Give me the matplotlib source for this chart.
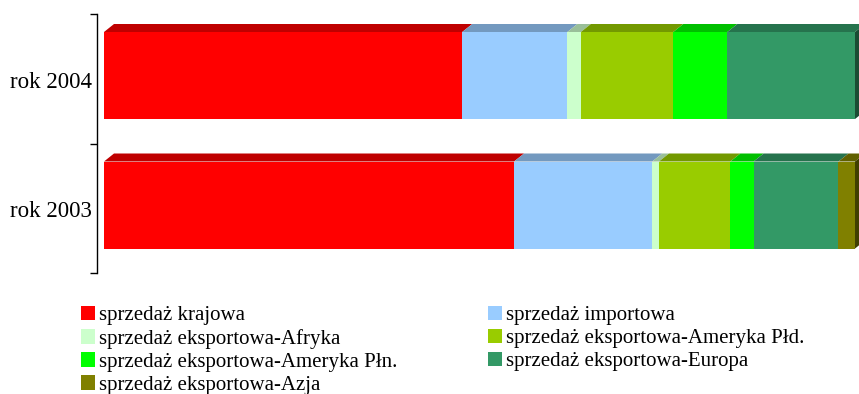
import numpy as np
import matplotlib
matplotlib.use("Agg")
import matplotlib.pyplot as plt
from matplotlib.patches import Polygon, Patch
from matplotlib.colors import to_rgb
from matplotlib.transforms import ScaledTranslation

plt.rcParams['font.family'] = ['Liberation Serif', 'DejaVu Serif']

lata = ['rok 2003', 'rok 2004']
serie = ['sprzedaż krajowa', 'sprzedaż importowa', 'sprzedaż eksportowa-Afryka',
         'sprzedaż eksportowa-Ameryka Płd.', 'sprzedaż eksportowa-Ameryka Płn.',
         'sprzedaż eksportowa-Europa', 'sprzedaż eksportowa-Azja']
# udzialy w %, kolejnosc jak w serie
rok_2003 = [54.6, 18.4, 0.9, 9.5, 3.1, 11.3, 2.2]
rok_2004 = [47.7, 14.0, 1.8, 12.3, 7.2, 17.0, 0.0]
kolory = ['#FF0000', '#99CCFF', '#CCFFCC', '#99CC00', '#00FF00', '#339966', '#808000']

dane = np.array([rok_2003, rok_2004])

def ciemniej(c, f):
    r, g, b = to_rgb(c)
    return (r * f, g * f, b * f)

W, H = 859, 394
fig = plt.figure(figsize=(W / 100, H / 100), dpi=100)
ax = fig.add_axes([104 / W, (H - 273) / H, (855 - 104) / W, (273 - 14) / H])
ax.set_xlim(0, 100)
ax.set_ylim(-0.5, 1.5)

h = 0.672
off = 0.025
dx = 10 / 751 * 100      # glebokosc 3D w jednostkach danych
dy = 8 / 129.5

for i in range(len(lata)):
    yc = i + off
    b, t = yc - h / 2, yc + h / 2
    left = 0
    for j, v in enumerate(dane[i]):
        if v <= 0:
            continue
        ax.barh(yc, v, left=left, height=h, color=kolory[j], linewidth=0)
        top = Polygon([(left, t), (left + v, t), (left + v + dx, t + dy), (left + dx, t + dy)],
                      closed=True, facecolor=ciemniej(kolory[j], 0.75), linewidth=0, clip_on=False)
        ax.add_patch(top)
        last = j
        left += v
    side = Polygon([(left, b), (left, t), (left + dx, t + dy), (left + dx, b + dy)],
                   closed=True, facecolor=ciemniej(kolory[last], 0.5), linewidth=0, clip_on=False)
    ax.add_patch(side)

for s in ['top', 'right', 'bottom']:
    ax.spines[s].set_visible(False)
ax.spines['left'].set_position(('outward', 5))
ax.spines['left'].set_linewidth(1.0)
ax.set_xticks([])
ax.set_yticks([-0.5, 0.5, 1.5])
ax.set_yticklabels([])
ax.tick_params(axis='y', which='major', direction='out', length=5, width=1.0)
ax.set_yticks([0, 1], minor=True)
ax.set_yticklabels(lata, minor=True, fontsize=16.5)
ax.tick_params(axis='y', which='minor', length=0, pad=4)
for lab in ax.get_yticklabels(minor=True):
    lab.set_va('center')
    lab.set_transform(lab.get_transform() + ScaledTranslation(0, -3.5 / 100, fig.dpi_scale_trans))

uchwyty = [Patch(facecolor=kolory[j], linewidth=0, label=serie[j]) for j in range(len(serie))]
kol1 = [uchwyty[k] for k in (0, 2, 4, 6)]
kol2 = [uchwyty[k] for k in (1, 3, 5)]
opts = dict(frameon=False, fontsize=15, handlelength=0.68, handleheight=0.68,
            handletextpad=0.18, labelspacing=0.17, borderpad=0, borderaxespad=0)
leg1 = fig.legend(handles=kol1, loc='upper left', bbox_to_anchor=(81 / W, 1 - 306 / H), **opts)
leg2 = fig.legend(handles=kol2, loc='upper left', bbox_to_anchor=(488 / W, 1 - 306 / H), **opts)

fig.savefig('out.png', dpi=100)
